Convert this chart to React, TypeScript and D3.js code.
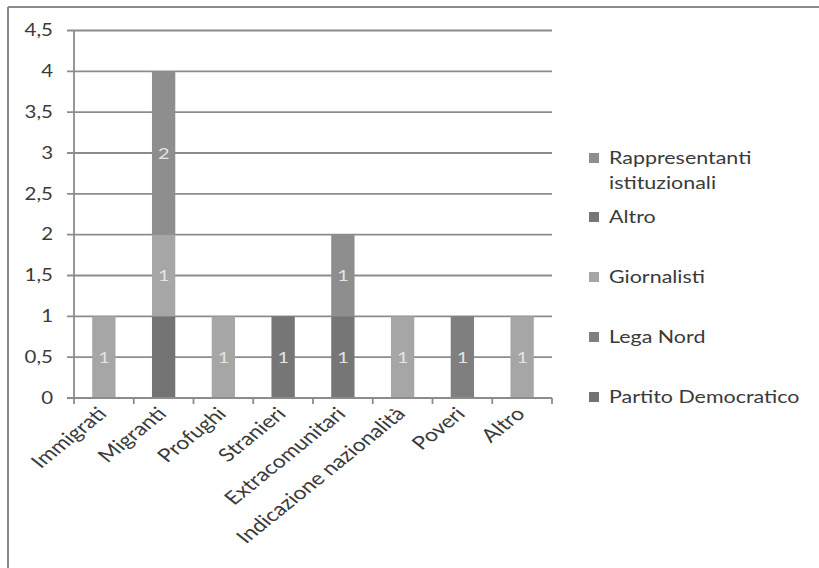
import React from "react";
import * as d3 from "d3";

// Categories on the x axis
const categories = [
  "Immigrati",
  "Migranti",
  "Profughi",
  "Stranieri",
  "Extracomunitari",
  "Indicazione nazionalità",
  "Poveri",
  "Altro",
];

// Series, in stacking order (bottom to top)
const seriesNames = [
  "Partito Democratico",
  "Lega Nord",
  "Giornalisti",
  "Altro",
  "Rappresentanti istituzionali",
];

const partitoDemocratico = [0, 1, 0, 0, 0, 0, 0, 0];
const legaNord = [0, 0, 0, 0, 0, 0, 1, 0];
const giornalisti = [1, 1, 1, 0, 0, 1, 0, 1];
const altro = [0, 0, 0, 1, 1, 0, 0, 0];
const rappresentanti = [0, 2, 0, 0, 1, 0, 0, 0];

const seriesValues = [partitoDemocratico, legaNord, giornalisti, altro, rappresentanti];
const seriesColors = ["#737373", "#7f7f7f", "#a6a6a6", "#767676", "#8e8e8e"];
// Partito Democratico values carry no data label
const seriesShowLabels = [false, true, true, true, true];

const yTicks = [0, 0.5, 1, 1.5, 2, 2.5, 3, 3.5, 4, 4.5];

// Legend rows, top to bottom
const legendOrder = [4, 3, 2, 1, 0];
const legendLines: string[][] = [
  ["Partito Democratico"],
  ["Lega Nord"],
  ["Giornalisti"],
  ["Altro"],
  ["Rappresentanti", "istituzionali"],
];

const W = 819;
const H = 568;
const FONT = "Lato, 'Open Sans', sans-serif";
// the whole figure is drawn horizontally widened
const SX = 1.24;

function WideText({
  x,
  y,
  rotate = 0,
  anchor = "start",
  size,
  fill,
  children,
}: {
  x: number;
  y: number;
  rotate?: number;
  anchor?: string;
  size: number;
  fill: string;
  children: React.ReactNode;
}) {
  return (
    <g transform={`translate(${x},${y}) scale(${SX},1) rotate(${rotate})`}>
      <text x={0} y={0} dy={rotate ? 0 : "0.35em"} textAnchor={anchor as any} fontSize={size} fill={fill}>
        {children}
      </text>
    </g>
  );
}

export default function App() {
  const x0 = 74;
  const x1 = 552;
  const yTop = 30.5;
  const yBottom = 398;

  const x = d3.scaleBand<string>().domain(categories).range([x0, x1]).paddingInner(0.61).paddingOuter(0.305);
  const xOuter = d3.scaleBand<string>().domain(categories).range([x0, x1]);
  const y = d3.scaleLinear().domain([0, 4.5]).range([yBottom, yTop]);

  const rows = categories.map((c, i) => {
    const r: Record<string, number | string> = { category: c };
    seriesNames.forEach((s, k) => (r[s] = seriesValues[k][i]));
    return r;
  });
  const stacked = d3.stack<Record<string, number | string>>().keys(seriesNames)(rows as any);

  const fmt = (v: number) => String(v).replace(".", ",");
  const legendY = [397, 337, 277, 217, 158];

  return (
    <svg
      width={W}
      height={H}
      style={{ position: "absolute", left: 0, top: 0, background: "#fff" }}
      fontFamily={FONT}
    >
      {/* outer frame (top and left edges visible) */}
      <line x1={8} y1={7} x2={W + 5} y2={7} stroke="#8a8a8a" strokeWidth={2} />
      <line x1={8} y1={7} x2={8} y2={H + 5} stroke="#8a8a8a" strokeWidth={2} />

      {/* gridlines */}
      {yTicks.map((t) => (
        <line key={"g" + t} x1={x0 - 7} x2={x1} y1={y(t)} y2={y(t)} stroke="#8c8c8c" strokeWidth={1.8} />
      ))}

      {/* y axis */}
      <line x1={x0} x2={x0} y1={yTop} y2={yBottom} stroke="#8c8c8c" strokeWidth={1.8} />
      {yTicks.map((t) => (
        <WideText key={"yl" + t} x={53} y={y(t)} anchor="end" size={16.5} fill="#3a3a3a">
          {fmt(t)}
        </WideText>
      ))}

      {/* bars */}
      {stacked.map((layer, k) =>
        layer.map((d, i) => {
          const v = seriesValues[k][i];
          if (!v) return null;
          const bx = x(categories[i])!;
          const top = y(d[1]);
          const bot = y(d[0]);
          return (
            <g key={`b${k}-${i}`}>
              <rect x={bx} y={top} width={x.bandwidth()} height={bot - top} fill={seriesColors[k]} />
              {seriesShowLabels[k] && (
                <WideText x={bx + x.bandwidth() / 2} y={(top + bot) / 2} anchor="middle" size={16} fill="#e4e4e4">
                  {fmt(v)}
                </WideText>
              )}
            </g>
          );
        })
      )}

      {/* x axis */}
      <line x1={x0} x2={x1} y1={yBottom} y2={yBottom} stroke="#8c8c8c" strokeWidth={1.8} />
      {categories.map((c, i) => (
        <line
          key={"xt" + i}
          x1={xOuter(c)!}
          x2={xOuter(c)!}
          y1={yBottom}
          y2={yBottom + 6}
          stroke="#8c8c8c"
          strokeWidth={1.8}
        />
      ))}
      <line x1={x1} x2={x1} y1={yBottom} y2={yBottom + 6} stroke="#8c8c8c" strokeWidth={1.8} />
      {categories.map((c) => (
        <WideText
          key={"xl" + c}
          x={xOuter(c)! + xOuter.bandwidth() / 2 + 4}
          y={yBottom + 17}
          rotate={-45}
          anchor="end"
          size={18.5}
          fill="#3a3a3a"
        >
          {c}
        </WideText>
      ))}

      {/* legend */}
      {legendOrder.map((k) => (
        <g key={"lg" + k}>
          <rect x={589} y={legendY[k] - 5} width={10} height={10} fill={seriesColors[k]} />
          {legendLines[k].map((line, j) => (
            <WideText key={j} x={609} y={legendY[k] + j * 25} size={17.3} fill="#3a3a3a">
              {line}
            </WideText>
          ))}
        </g>
      ))}
    </svg>
  );
}
